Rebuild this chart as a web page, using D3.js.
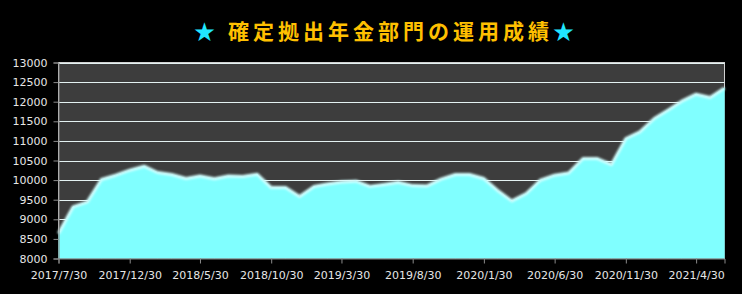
<!DOCTYPE html>
<html>
<head>
<meta charset="utf-8">
<script src="https://cdn.jsdelivr.net/npm/d3@7"></script>
<style>
    body { margin: 0; background: #000; }
    svg { display: block; }
</style>
</head>
<body>
<div class="svg-container"></div>
<script>
// month-end dates of the record (Excel style 30th, Feb on 28th)
let dates = [
    "2017/7/30", "2017/8/30", "2017/9/30", "2017/10/30", "2017/11/30", "2017/12/30",
    "2018/1/30", "2018/2/28", "2018/3/30", "2018/4/30", "2018/5/30", "2018/6/30",
    "2018/7/30", "2018/8/30", "2018/9/30", "2018/10/30", "2018/11/30", "2018/12/30",
    "2019/1/30", "2019/2/28", "2019/3/30", "2019/4/30", "2019/5/30", "2019/6/30",
    "2019/7/30", "2019/8/30", "2019/9/30", "2019/10/30", "2019/11/30", "2019/12/30",
    "2020/1/30", "2020/2/28", "2020/3/30", "2020/4/30", "2020/5/30", "2020/6/30",
    "2020/7/30", "2020/8/30", "2020/9/30", "2020/10/30", "2020/11/30", "2020/12/30",
    "2021/1/30", "2021/2/28", "2021/3/30", "2021/4/30", "2021/5/30", "2021/6/30"
];

let values = [
    8640, 9316, 9444, 10015, 10125, 10253,
    10355, 10194, 10143, 10040, 10107, 10035,
    10107, 10092, 10150, 9810, 9810, 9580,
    9835, 9900, 9950, 9972, 9840, 9890,
    9945, 9860, 9852, 10023, 10143, 10143,
    10040, 9742, 9469, 9658, 9997, 10125,
    10180, 10551, 10551, 10395, 11061, 11230,
    11571, 11783, 12013, 12191, 12107, 12352
];

let yTicks = [8000, 8500, 9000, 9500, 10000, 10500, 11000, 11500, 12000, 12500, 13000];
// every fifth month gets a label
let xTickDates = ["2017/7/30", "2017/12/30", "2018/5/30", "2018/10/30", "2019/3/30",
                  "2019/8/30", "2020/1/30", "2020/6/30", "2020/11/30", "2021/4/30"];

let titleText = "確定拠出年金部門の運用成績";

let width = 742;
let height = 294;
let plot = { left: 58.5, right: 724.5, top: 62.5, bottom: 258.5 };

let parse = d3.timeParse("%Y/%-m/%-d");
let format = d3.timeFormat("%Y/%-m/%-d");

let data = dates.map((d, i) => ({ date: parse(d), value: values[i] }));

let svg = d3.select(".svg-container")
    .append("svg")
    .attr("width", width)
    .attr("height", height)
    .style("background", "#000");

// soft glow for the top edge of the area
let defs = svg.append("defs");
defs.append("filter")
    .attr("id", "glow")
    .attr("x", "-5%").attr("y", "-20%").attr("width", "110%").attr("height", "140%")
    .append("feGaussianBlur")
    .attr("stdDeviation", 0.9);

let x = d3.scaleTime()
    .domain(d3.extent(data, d => d.date))
    .range([plot.left, plot.right]);

let y = d3.scaleLinear()
    .domain([8000, 13000])
    .range([plot.bottom, plot.top]);

/**************************
 * PLOT AREA + GRID
 **************************/

svg.append("rect")
    .attr("x", plot.left)
    .attr("y", plot.top)
    .attr("width", plot.right - plot.left)
    .attr("height", plot.bottom - plot.top)
    .attr("fill", "#3d3d3d")
    .attr("stroke", "#d0d0d0")
    .attr("stroke-width", 1);

svg.append("g")
    .selectAll("line")
    .data(yTicks.slice(1))
    .enter()
    .append("line")
    .attr("x1", plot.left)
    .attr("x2", plot.right)
    .attr("y1", d => Math.round(y(d)) + 0.5)
    .attr("y2", d => Math.round(y(d)) + 0.5)
    .attr("stroke", "#e4f2f2")
    .attr("stroke-width", 1.2);

/**************************
 * AREA
 **************************/

let area = d3.area()
    .x(d => x(d.date))
    .y0(plot.bottom)
    .y1(d => y(d.value));

let line = d3.line()
    .x(d => x(d.date))
    .y(d => y(d.value));

svg.append("path")
    .datum(data)
    .attr("d", area)
    .attr("fill", "#80ffff")
    .attr("stroke", "#6cc8c8")
    .attr("stroke-width", 0.8);

svg.append("path")
    .datum(data)
    .attr("d", line)
    .attr("fill", "none")
    .attr("stroke", "#d4ffff")
    .attr("stroke-width", 3)
    .attr("stroke-linejoin", "round")
    .attr("filter", "url(#glow)");

/**************************
 * AXES
 **************************/

let yAxis = d3.axisLeft(y)
    .tickValues(yTicks)
    .tickSize(5)
    .tickPadding(6)
    .tickFormat(d3.format("d"));

let xAxis = d3.axisBottom(x)
    .tickValues(xTickDates.map(parse))
    .tickSize(5)
    .tickPadding(8)
    .tickFormat(format);

let gy = svg.append("g")
    .attr("transform", "translate(" + plot.left + ",0)")
    .call(yAxis);

let gx = svg.append("g")
    .attr("transform", "translate(0," + plot.bottom + ")")
    .call(xAxis);

[gx, gy].forEach(g => {
    g.select(".domain").attr("stroke", "#8a8a8a");
    g.selectAll(".tick line").attr("stroke", "#8a8a8a");
    g.selectAll(".tick text")
        .attr("fill", "#e6e6e6")
        .style("font-family", "'DejaVu Sans', Verdana, sans-serif")
        .style("font-size", "11px");
});

/**************************
 * TITLE
 **************************/

let title = svg.append("text")
    .attr("x", 386)
    .attr("y", 39)
    .attr("text-anchor", "middle")
    .style("font-family", "'Noto Sans CJK JP', sans-serif")
    .style("font-weight", "bold")
    .style("font-size", "21px")
    .style("letter-spacing", "4px");

title.append("tspan").attr("fill", "#20e6ff").text("★ ");
title.append("tspan").attr("fill", "#ffc000").text(titleText);
title.append("tspan").attr("fill", "#20e6ff").text("★");
</script>
</body>
</html>
